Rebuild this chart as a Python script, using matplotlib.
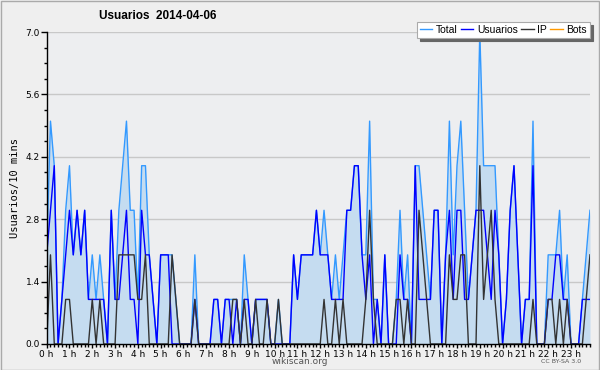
import numpy as np
import matplotlib
matplotlib.use("Agg")
import matplotlib.pyplot as plt
from matplotlib.ticker import MultipleLocator

# 10-minute buckets for 2014-04-06 (144 values)
usuarios = [2, 3, 4, 0, 1, 2, 3, 2, 3, 2, 3, 1, 1, 1, 1, 1, 0, 3, 1, 1,
            2, 3, 1, 1, 0, 3, 2, 2, 1, 0, 2, 2, 2, 0, 0, 0, 0, 0, 0, 1,
            0, 0, 0, 0, 1, 1, 0, 1, 1, 0, 1, 0, 1, 1, 0, 1, 1, 1, 1, 0,
            0, 0, 0, 0, 0, 2, 1, 2, 2, 2, 2, 3, 2, 2, 2, 1, 1, 1, 1, 3,
            3, 4, 4, 2, 1, 2, 0, 1, 0, 2, 0, 0, 0, 2, 1, 1, 0, 4, 1, 1,
            1, 1, 3, 3, 0, 2, 3, 1, 3, 3, 1, 1, 2, 3, 3, 3, 2, 1, 3, 2,
            0, 1, 3, 4, 2, 0, 1, 1, 4, 0, 0, 0, 1, 1, 2, 2, 1, 1, 0, 0,
            0, 1, 1, 1]
ip = [0, 2, 0, 0, 0, 1, 1, 0, 0, 0, 0, 0, 1, 0, 1, 0, 0, 0, 0, 2,
      2, 2, 2, 2, 1, 1, 2, 0, 0, 0, 0, 0, 0, 2, 1, 0, 0, 0, 0, 1,
      0, 0, 0, 0, 0, 0, 0, 0, 0, 1, 1, 0, 1, 0, 0, 1, 0, 0, 1, 0,
      0, 1, 0, 0, 0, 0, 0, 0, 0, 0, 0, 0, 0, 1, 0, 0, 1, 0, 1, 0,
      0, 0, 0, 0, 1, 3, 1, 0, 0, 0, 0, 0, 1, 1, 0, 1, 0, 0, 3, 2,
      1, 0, 0, 0, 0, 0, 2, 1, 1, 2, 2, 0, 0, 0, 4, 1, 2, 3, 1, 0,
      0, 0, 0, 0, 0, 0, 0, 0, 1, 0, 0, 0, 1, 1, 0, 1, 0, 1, 0, 0,
      0, 0, 1, 2]
total = [2, 5, 4, 0, 1, 3, 4, 2, 3, 2, 3, 1, 2, 1, 2, 1, 0, 3, 1, 3,
         4, 5, 3, 3, 1, 4, 4, 2, 1, 0, 2, 2, 2, 2, 1, 0, 0, 0, 0, 2,
         0, 0, 0, 0, 1, 1, 0, 1, 1, 1, 1, 0, 2, 1, 0, 1, 1, 1, 1, 0,
         0, 1, 0, 0, 0, 2, 1, 2, 2, 2, 2, 3, 2, 3, 2, 1, 2, 1, 2, 3,
         3, 4, 4, 2, 2, 5, 1, 1, 0, 2, 0, 0, 1, 3, 1, 2, 0, 4, 4, 3,
         2, 1, 3, 3, 0, 2, 5, 2, 4, 5, 3, 1, 2, 3, 7, 4, 4, 4, 4, 2,
         0, 1, 3, 4, 2, 0, 1, 1, 5, 0, 0, 0, 2, 2, 2, 3, 1, 2, 0, 0,
         0, 1, 2, 3]
bots = [0] * 144

hours = np.arange(len(total)) / 6.0
hour_labels = [f"{h} h" for h in range(24)]

fig = plt.figure(figsize=(6.0, 3.7), dpi=100, facecolor="#efefef")
ax = fig.add_axes([0.0778, 0.0703, 0.9055, 0.8432])
ax.set_facecolor("#edeef0")

ax.fill_between(hours, total, 0, color="#c5dcf0", lw=0)
ax.plot(hours, total, color="#3399ff", lw=1.0, label="Total")
ax.plot(hours, usuarios, color="#0000ff", lw=1.0, label="Usuarios")
ax.plot(hours, ip, color="#333333", lw=1.0, label="IP")
ax.plot(hours, bots, color="#ff9900", lw=1.0, label="Bots", alpha=0)

ax.set_xlim(0, hours[-1])
ax.set_ylim(0, 7.0)
ax.set_yticks(np.arange(0, 7.01, 1.4))
ax.set_yticklabels([f"{v:.1f}" for v in np.arange(0, 7.01, 1.4)])
ax.yaxis.set_minor_locator(MultipleLocator(0.35))
ax.set_xticks(range(24))
ax.set_xticklabels(hour_labels)
ax.xaxis.set_minor_locator(MultipleLocator(1 / 6))
ax.grid(axis="y", color="#c8c8c8", lw=1.0)
ax.set_axisbelow(True)

for s in ["top", "right"]:
    ax.spines[s].set_visible(False)
for s in ["left", "bottom"]:
    ax.spines[s].set_color("black")
    ax.spines[s].set_linewidth(1.0)
ax.tick_params(axis="both", which="major", labelsize=6.5, length=4, width=1, pad=1)
ax.tick_params(axis="both", which="minor", length=2.5, width=1)
ax.tick_params(axis="x", which="major", length=3)

ax.set_ylabel("Usuarios/10 mins", family="DejaVu Sans Mono", fontsize=7.5, labelpad=4)

fig.text(0.262, 0.957, "Usuarios  2014-04-06", ha="center", va="center",
         fontsize=8.5, fontweight="bold", family="Liberation Sans")

handles = ax.get_lines()
leg = fig.legend(handles, ["Total", "Usuarios", "IP", "Bots"], ncol=4,
                 loc="upper right", bbox_to_anchor=(0.992, 0.955),
                 prop={"family": "Liberation Sans", "size": 7.5},
                 handlelength=1.2, handletextpad=0.35,
                 columnspacing=0.3, borderpad=0.3, frameon=True,
                 fancybox=False, shadow={"color": "#666666", "alpha": 1})
for h in leg.legend_handles:
    h.set_alpha(1)
leg.get_frame().set_edgecolor("#aaaaaa")
leg.get_frame().set_linewidth(0.8)

fig.text(0.5, 0.022, "wikiscan.org", ha="center", va="center",
         fontsize=6.5, color="#555555")
fig.text(0.935, 0.022, "CC BY-SA 3.0", ha="center", va="center",
         fontsize=4.5, color="#555555")

fig.patches.append(plt.Rectangle((0.001, 0.001), 0.997, 0.997, transform=fig.transFigure,
                                 fill=False, edgecolor="#aaaaaa", lw=1))

fig.savefig("out.png", dpi=100, facecolor=fig.get_facecolor())
